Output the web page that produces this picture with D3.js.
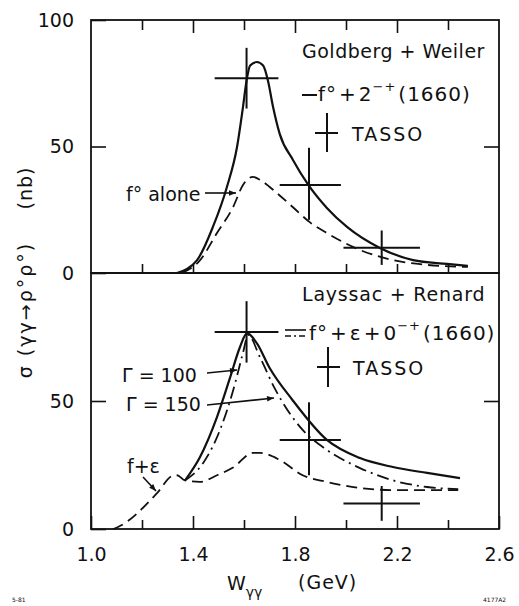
<!DOCTYPE html>
<html><head><meta charset="utf-8">
<script src="https://cdn.jsdelivr.net/npm/d3@7"></script>
<style>
html,body{margin:0;padding:0;background:#fff;}
svg text{font-family:"DejaVu Sans",sans-serif;fill:#111;}
</style></head>
<body>
<script>
// ---- data ----
const xTicksMajor = [1.0, 1.4, 1.8, 2.2, 2.6];
const xTicksMinor = [1.2, 1.6, 2.0, 2.4];
const yTicksTop = [0, 50, 100];
const yTicksBottom = [0, 50];

// TASSO data points
const tassoX = [1.61, 1.855, 2.14];
const tassoXlo = [1.485, 1.74, 1.99];
const tassoXhi = [1.735, 1.98, 2.29];
const tassoY = [77, 34.8, 10];
const tassoYlo = [65, 21, 3.2];
const tassoYhi = [89, 49.5, 16.8];

// Top panel: Goldberg + Weiler
const gwSolidX = [1.337, 1.416, 1.478, 1.533, 1.573, 1.596, 1.61, 1.624, 1.65, 1.675, 1.694, 1.714, 1.74, 1.792, 1.851, 1.925, 2.004, 2.133, 2.263, 2.396, 2.478];
const gwSolidY = [0, 5.1, 18.2, 34, 50, 65.6, 76, 82, 83.4, 82, 76, 65.6, 55, 44.7, 35, 25.7, 18.2, 9.9, 5.1, 3.6, 2.8];
const gwDashX = [1.357, 1.427, 1.494, 1.557, 1.596, 1.635, 1.663, 1.729, 1.792, 1.859, 1.925, 2.055, 2.184, 2.318, 2.478];
const gwDashY = [0, 5, 15.8, 26, 34.8, 38, 36.8, 31.6, 26, 20, 15.8, 9.1, 5.1, 3.2, 2.4];

// Bottom panel: Layssac + Renard
const lrDashX = [1.086, 1.106, 1.259, 1.318, 1.337, 1.369, 1.427, 1.494, 1.557, 1.635, 1.663, 1.74, 1.83, 1.925, 2.055, 2.184, 2.44];
const lrDashY = [0, 0.8, 14, 20.7, 21, 19, 18.4, 21, 24, 29.7, 29.7, 27, 21, 18.4, 16, 15.2, 15.2];
const lr100X = [1.369, 1.427, 1.494, 1.545, 1.584, 1.612, 1.65, 1.70, 1.79, 1.925, 2.055, 2.184, 2.318, 2.447];
const lr100Y = [19, 28, 43.7, 59, 71, 76.5, 72.6, 63, 50.4, 34.8, 27.7, 24.2, 21.9, 19.9];
const lr150X = [1.369, 1.44, 1.506, 1.557, 1.596, 1.616, 1.663, 1.72, 1.83, 1.925, 2.055, 2.184, 2.318, 2.44];
const lr150Y = [19, 25.8, 38.7, 54, 68.8, 75.8, 67, 55, 38.7, 30.9, 23.8, 19, 16.4, 15.6];

// ---- drawing ----
const W = 519, H = 606;
const svg = d3.select("body").append("svg").attr("width", W).attr("height", H);

const x = d3.scaleLinear().domain([1.0, 2.6]).range([91, 499]);
const yTop = d3.scaleLinear().domain([0, 100]).range([273, 20]);
const yBot = d3.scaleLinear().domain([0, 100]).range([529, 273]);

const FS = 19;
const ink = "#111";

// frame
function frame(y) {
  svg.append("rect").attr("x", x(1.0)).attr("y", y(100)).attr("width", x(2.6) - x(1.0))
    .attr("height", y(0) - y(100)).attr("fill", "none").attr("stroke", ink).attr("stroke-width", 1.8);
}
frame(yTop); frame(yBot);

function cleanAxis(g) {
  g.select(".domain").remove();
  g.selectAll("line").attr("stroke", ink).attr("stroke-width", 1.6);
  g.selectAll("text").attr("font-family", "DejaVu Sans").attr("font-size", FS).attr("fill", ink);
}
const fmt = d3.format(".1f");

// bottom axis (labelled)
svg.append("g").attr("transform", `translate(0,${yBot(0)})`)
  .call(d3.axisBottom(x).tickValues(xTicksMajor).tickFormat(fmt).tickSizeInner(-13).tickSizeOuter(0).tickPadding(19))
  .call(cleanAxis);
svg.append("g").attr("transform", `translate(0,${yBot(0)})`)
  .call(d3.axisBottom(x).tickValues(xTicksMinor).tickFormat("").tickSizeInner(-9).tickSizeOuter(0))
  .call(cleanAxis);
// top panel: ticks on bottom edge (pointing up) and top edge (pointing down)
svg.append("g").attr("transform", `translate(0,${yTop(0)})`)
  .call(d3.axisBottom(x).tickValues(xTicksMajor.slice(1, -1).concat(xTicksMinor)).tickFormat("").tickSizeInner(-9).tickSizeOuter(0))
  .call(cleanAxis);
svg.append("g").attr("transform", `translate(0,${yTop(100)})`)
  .call(d3.axisTop(x).tickValues(xTicksMajor.slice(1, -1)).tickFormat("").tickSizeInner(-13).tickSizeOuter(0))
  .call(cleanAxis);
svg.append("g").attr("transform", `translate(0,${yTop(100)})`)
  .call(d3.axisTop(x).tickValues(xTicksMinor).tickFormat("").tickSizeInner(-10).tickSizeOuter(0))
  .call(cleanAxis);

// y axes
svg.append("g").attr("transform", `translate(${x(1.0)},0)`)
  .call(d3.axisLeft(yTop).tickValues(yTicksTop).tickFormat(d3.format("d")).tickSizeInner(-15).tickSizeOuter(0).tickPadding(17))
  .call(cleanAxis);
svg.append("g").attr("transform", `translate(${x(1.0)},0)`)
  .call(d3.axisLeft(yBot).tickValues(yTicksBottom).tickFormat(d3.format("d")).tickSizeInner(-15).tickSizeOuter(0).tickPadding(17))
  .call(cleanAxis);
svg.append("g").attr("transform", `translate(${x(2.6)},0)`)
  .call(d3.axisRight(yTop).tickValues([50]).tickFormat("").tickSizeInner(-15).tickSizeOuter(0))
  .call(cleanAxis);
svg.append("g").attr("transform", `translate(${x(2.6)},0)`)
  .call(d3.axisRight(yBot).tickValues([50]).tickFormat("").tickSizeInner(-15).tickSizeOuter(0))
  .call(cleanAxis);

// curves
function curve(xs, ys, y, dash, sw) {
  const pts = xs.map((v, i) => [v, ys[i]]);
  const line = d3.line().x(d => x(d[0])).y(d => y(d[1])).curve(d3.curveMonotoneX);
  svg.append("path").attr("d", line(pts)).attr("fill", "none").attr("stroke", ink)
    .attr("stroke-width", sw || 2).attr("stroke-dasharray", dash || null).attr("stroke-linejoin", "round");
}
curve(gwSolidX, gwSolidY, yTop, null, 2.2);
curve(gwDashX, gwDashY, yTop, "11 6", 1.8);
curve(lrDashX, lrDashY, yBot, "11 6", 1.8);
curve(lr100X, lr100Y, yBot, null, 2.2);
curve(lr150X, lr150Y, yBot, "12 5 2 5", 1.8);

// TASSO error bars
function tasso(y) {
  const g = svg.append("g").attr("stroke", ink).attr("stroke-width", 2);
  tassoX.forEach((v, i) => {
    g.append("line").attr("x1", x(tassoXlo[i])).attr("x2", x(tassoXhi[i])).attr("y1", y(tassoY[i])).attr("y2", y(tassoY[i]));
    g.append("line").attr("x1", x(v)).attr("x2", x(v)).attr("y1", y(tassoYlo[i])).attr("y2", y(tassoYhi[i]));
  });
}
tasso(yTop); tasso(yBot);

// arrows
svg.append("defs").append("marker").attr("id", "ah").attr("viewBox", "0 0 10 10")
  .attr("refX", 10).attr("refY", 5).attr("markerWidth", 9).attr("markerHeight", 7)
  .attr("markerUnits", "userSpaceOnUse").attr("orient", "auto")
  .append("path").attr("d", "M0,1 L10,5 L0,9 Z").attr("fill", ink);
function arrow(x1, y1, x2, y2) {
  svg.append("line").attr("x1", x1).attr("y1", y1).attr("x2", x2).attr("y2", y2)
    .attr("stroke", ink).attr("stroke-width", 1.6).attr("marker-end", "url(#ah)");
}

function txt(xp, yp, s, size, anchor) {
  return svg.append("text").attr("x", xp).attr("y", yp).attr("font-size", size || FS)
    .attr("text-anchor", anchor || "start").text(s);
}

// top legend
txt(302, 58, "Goldberg + Weiler").attr("letter-spacing", 0.5);
svg.append("line").attr("x1", 302).attr("x2", 317).attr("y1", 95).attr("y2", 95).attr("stroke", ink).attr("stroke-width", 2);
{
  const t = svg.append("text").attr("x", 318).attr("y", 101).attr("font-size", 20).attr("letter-spacing", 1);
  t.append("tspan").text("f°");
  t.append("tspan").attr("dx", 2).text("+");
  t.append("tspan").attr("dx", 2).text("2");
  t.append("tspan").attr("font-size", 13).attr("dy", -10).text("−+");
  t.append("tspan").attr("dy", 10).attr("dx", 2).text("(1660)");
}
svg.append("line").attr("x1", 315).attr("x2", 338).attr("y1", 133).attr("y2", 133).attr("stroke", ink).attr("stroke-width", 2);
svg.append("line").attr("x1", 327).attr("x2", 327).attr("y1", 113).attr("y2", 152).attr("stroke", ink).attr("stroke-width", 2);
txt(352, 141, "TASSO").attr("letter-spacing", 2);

txt(126, 201, "f° alone");
arrow(205, 193, 236, 193);

// bottom legend
txt(302, 301, "Layssac + Renard").attr("letter-spacing", 0.8);
svg.append("line").attr("x1", 285).attr("x2", 306).attr("y1", 330).attr("y2", 330).attr("stroke", ink).attr("stroke-width", 1.6);
svg.append("line").attr("x1", 285).attr("x2", 306).attr("y1", 336).attr("y2", 336).attr("stroke", ink).attr("stroke-width", 1.6).attr("stroke-dasharray", "6 3 2 3");
{
  const t = svg.append("text").attr("x", 309).attr("y", 340).attr("font-size", 20).attr("letter-spacing", 1);
  t.append("tspan").text("f°");
  t.append("tspan").attr("dx", 2).text("+");
  t.append("tspan").attr("dx", 2).text("ε");
  t.append("tspan").attr("dx", 2).text("+");
  t.append("tspan").attr("dx", 2).text("0");
  t.append("tspan").attr("font-size", 13).attr("dy", -10).text("−+");
  t.append("tspan").attr("dy", 10).attr("dx", 2).text("(1660)");
}
svg.append("line").attr("x1", 317).attr("x2", 340).attr("y1", 367).attr("y2", 367).attr("stroke", ink).attr("stroke-width", 2);
svg.append("line").attr("x1", 328).attr("x2", 328).attr("y1", 347).attr("y2", 387).attr("stroke", ink).attr("stroke-width", 2);
txt(353, 375, "TASSO").attr("letter-spacing", 2);

txt(122, 382, "Γ = 100");
arrow(207, 373, 237, 370);
txt(126, 411, "Γ = 150");
arrow(207, 405, 274, 398);
txt(127, 473, "f+ε");
arrow(143, 477, 156, 491);

// axis titles (rotated y title, two parts)
svg.append("text").attr("transform", "translate(32,310) rotate(-90)").attr("text-anchor", "middle")
  .attr("font-size", FS).attr("letter-spacing", 2).text("σ (γγ→ρ°ρ°)");
svg.append("text").attr("transform", "translate(32,188) rotate(-90)").attr("text-anchor", "middle")
  .attr("font-size", FS).attr("letter-spacing", 1).text("(nb)");
{
  const t = txt(227, 590, "W");
  t.append("tspan").attr("font-size", 14).attr("dy", 7).text("γγ");
}
txt(298, 589, "(GeV)").attr("letter-spacing", 1);

// figure ids
txt(12, 602, "5-81", 6);
txt(483, 602, "4177A2", 6);
</script>
</body></html>
